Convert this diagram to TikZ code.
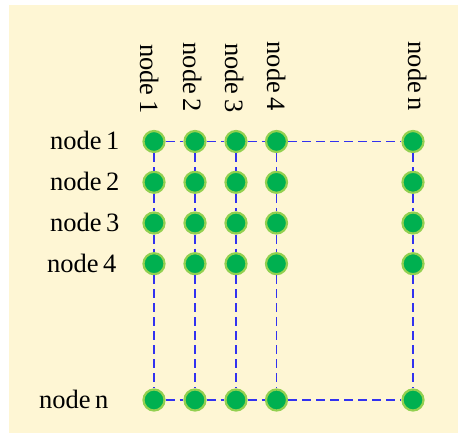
\documentclass[tikz,border=0pt]{standalone}
\usepackage{fontspec}
\setmainfont{Liberation Serif}
\definecolor{paper}{RGB}{254,246,212}
\definecolor{dotfill}{RGB}{0,176,80}
\definecolor{dotring}{RGB}{146,208,80}
\definecolor{linkblue}{RGB}{50,50,240}
\tikzset{
  dot/.style={circle, fill=dotfill, draw=dotring, line width=2.2pt, minimum size=21pt, inner sep=0pt},
  link/.style={draw=linkblue, line width=1.3pt, dash pattern=on 9pt off 5pt},
  labelfont/.style={font=\fontsize{26.5}{31}\selectfont},
  rowlabel/.style={labelfont, anchor=base west, inner sep=0pt},
  collabel/.style={labelfont, rotate=-90, anchor=base west, inner sep=0pt}
}
\begin{document}
\begin{tikzpicture}[x=1pt,y=-1pt]
  \useasboundingbox (0,0) rectangle (458,433);
  \fill[paper] (9,5) rectangle (458,433);

  % grid of dots: rows 1..4 and n, columns 1..4 and n
  \foreach \r/\y in {1/141.5, 2/182.3, 3/223, 4/263.7, n/400}{
    \foreach \c/\x in {1/154, 2/195, 3/236, 4/276.5, n/413}{
      \node[dot] (d\r\c) at (\x,\y) {};
    }
  }

  % row labels
  \node[rowlabel] (row1) at (50,149.5) {node\,1};
  \node[rowlabel] (row2) at (50,190) {node\,2};
  \node[rowlabel] (row3) at (50,231) {node\,3};
  \node[rowlabel] (row4) at (47,272) {node\,4};
  \node[rowlabel] (rown) at (39,408.5) {node\,n};

  % column labels
  \node[collabel] (col1) at (140,44) {node\,1};
  \node[collabel] (col2) at (183,42.5) {node\,2};
  \node[collabel] (col3) at (225,43) {node\,3};
  \node[collabel] (col4) at (267,41.5) {node\,4};
  \node[collabel] (coln) at (408,41.5) {node\,n};

  % dashed links: every column top to bottom, first and last rows across
  \foreach \c in {1,2,3,4,n}{
    \path[link] (d1\c) -- (d2\c) (d2\c) -- (d3\c) (d3\c) -- (d4\c) (d4\c) -- (dn\c);
  }
  \foreach \r in {1,n}{
    \path[link] (d\r1) -- (d\r2) (d\r2) -- (d\r3) (d\r3) -- (d\r4) (d\r4) -- (d\r n);
  }
\end{tikzpicture}
\end{document}
